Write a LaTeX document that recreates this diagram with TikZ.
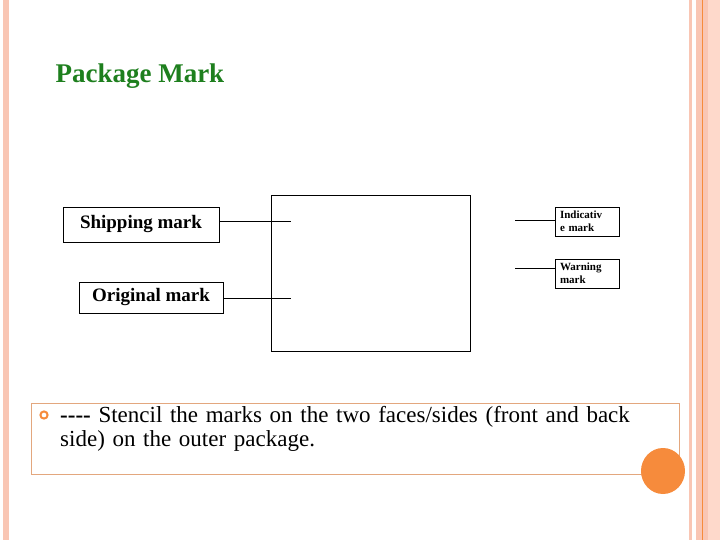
\documentclass[tikz,border=0pt]{standalone}
\usepackage{fontspec}
\setmainfont{Liberation Serif}
\definecolor{pk}{HTML}{F9C6B4}
\definecolor{pk2}{HTML}{FDC9B5}
\definecolor{og}{HTML}{F68B3C}
\definecolor{gr}{HTML}{1E7F1E}
\definecolor{bx}{HTML}{E3A77E}
\begin{document}
\begin{tikzpicture}[x=1pt,y=-1pt,
  mbox/.style={draw,thick,inner sep=0pt,align=center,font=\bfseries\fontsize{19}{20}\selectfont},
  sbox/.style={draw,thick,align=left,text width=54pt,inner sep=3pt,font=\bfseries\fontsize{11}{13}\selectfont,minimum height=29pt,minimum width=64pt},
  conn/.style={draw}]
\useasboundingbox (0,0) rectangle (720,540);
\fill[pk] (3,0) rectangle (9,540);
\fill[pk] (689,0) rectangle (692,540);
\fill[pk] (696,0) rectangle (720,540);
\fill[pk2!70!white] (708,0) rectangle (720,540);
\draw[og,line width=1pt] (702.5,0) -- (702.5,540);
\node[anchor=west,text=gr,font=\bfseries\fontsize{27}{30}\selectfont] (title) at (52,76) {Package Mark};
\draw[thick] (271,195) rectangle (470,351);
\coordinate (c1) at (291,221);
\coordinate (c2) at (291,298);
\coordinate (c3) at (515,220);
\coordinate (c4) at (515,268);
\node[mbox,minimum width=156pt,minimum height=35pt] (ship) at (141,224.5) {Shipping mark};
\node[mbox,minimum width=144pt,minimum height=31pt] (orig) at (151,297.5) {Original mark};
\node[sbox] (ind) at (587,221.5) {Indicativ\\e mark};
\node[sbox] (warn) at (587,273.5) {Warning\\mark};
\draw (ship.east|-c1) -- (c1);
\draw (orig.east|-c2) -- (c2);
\draw (c3) -- (ind.west|-c3);
\draw (c4) -- (warn.west|-c4);
\draw[bx] (31,403) rectangle (679,474);
\draw[og,line width=2pt] (44,415) circle (3.6);
\node[anchor=north west,align=left,text width=620pt,inner sep=0pt,font=\fontsize{23}{24}\selectfont] (txt) at (60,406) {\textbf{{-}{-}{-}{-}} Stencil the marks on the two faces/sides (front and back\\side) on the outer package.};
\fill[og] (663,471) ellipse (22 and 23);
\end{tikzpicture}
\end{document}
